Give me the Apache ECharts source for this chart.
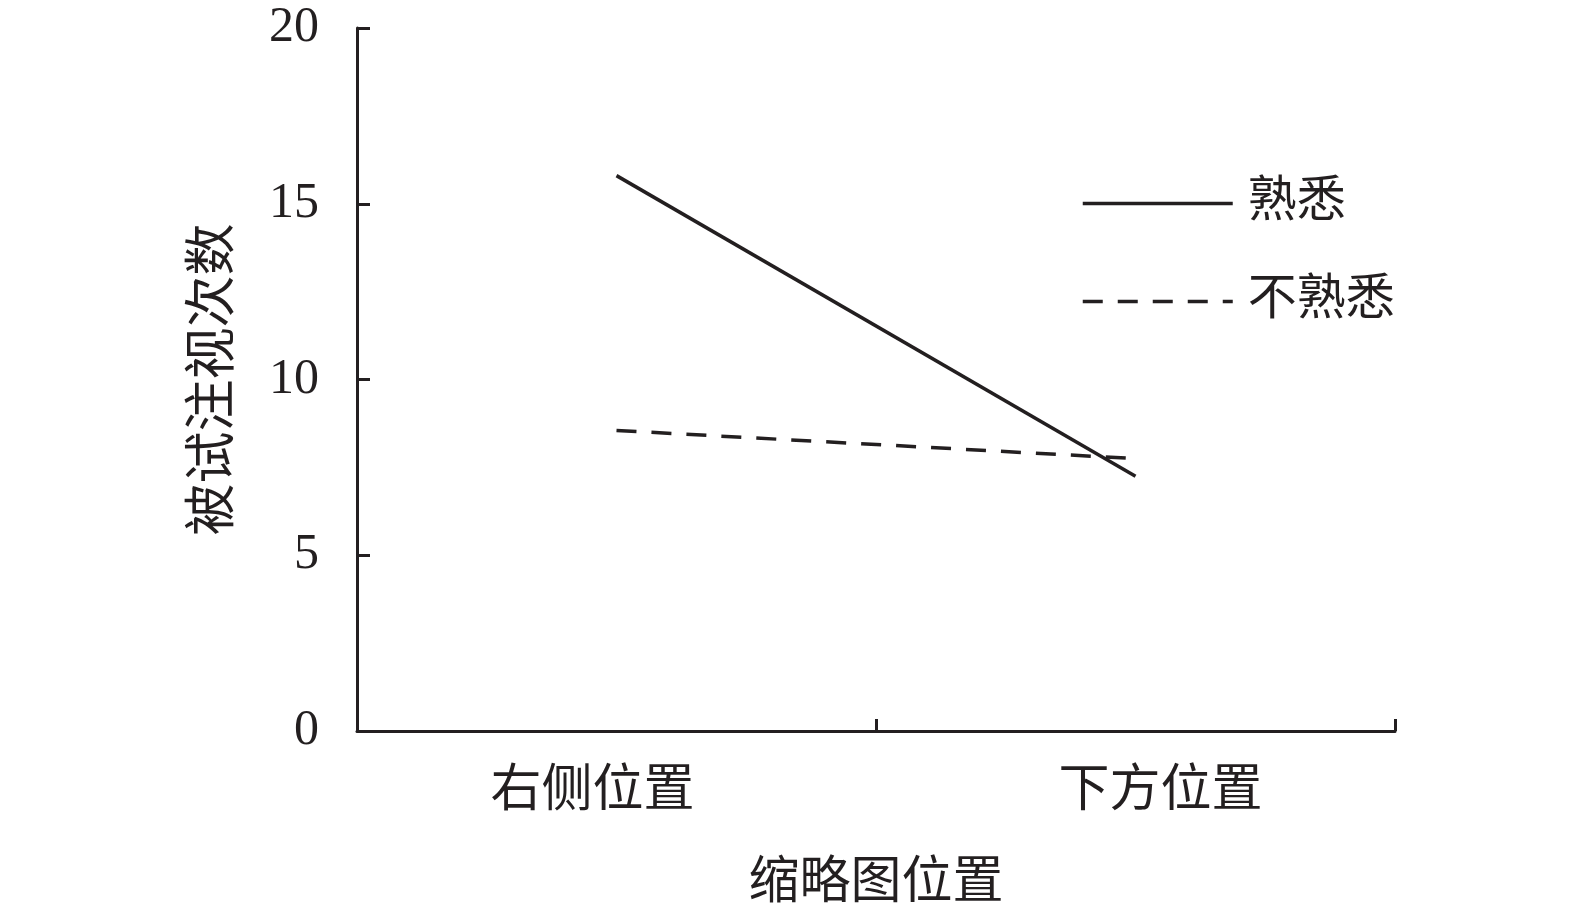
<!DOCTYPE html>
<html><head><meta charset="utf-8">
<script src="https://cdn.jsdelivr.net/npm/echarts@6/dist/echarts.min.js"></script>
<style>html,body{margin:0;padding:0;background:#fff}#c{width:1575px;height:910px}</style>
</head><body><div id="c"></div>
<script>
const categories = ['右侧位置', '下方位置'];
const familiar = [15.8, 7.25];
const unfamiliar = [8.55, 7.75];
const yTicks = [0, 5, 10, 15, 20];
const seriesNames = ['熟悉', '不熟悉'];

const ink = '#231f20';
const font = '"Liberation Serif", "Noto Sans CJK SC", serif';
const chart = echarts.init(document.getElementById('c'));
chart.setOption({
  animation: false,
  grid: { left: 357, right: 180, top: 28, bottom: 179, outerBoundsMode: 'none', containLabel: false },
  legend: {
    orient: 'vertical', left: 1076, top: 174, itemWidth: 150, itemHeight: 20, itemGap: 49,
    textStyle: { fontFamily: font, fontSize: 49, color: ink, padding: [0, 0, 0, 10] },
    itemStyle: { opacity: 0 },
    lineStyle: { width: 3.5 },
    data: seriesNames.map(n => ({ name: n, itemStyle: { opacity: 0 } }))
  },
  xAxis: {
    type: 'category', data: categories, boundaryGap: true,
    name: '缩略图位置', nameLocation: 'middle', nameGap: 128,
    nameTextStyle: { fontFamily: font, fontSize: 51, color: ink },
    axisLine: { lineStyle: { color: ink, width: 3 } },
    axisTick: { show: true, interval: 0, inside: true, length: 12, lineStyle: { color: ink, width: 3 } },
    axisLabel: {
      fontFamily: font, fontSize: 51, color: ink, margin: 36,
      formatter: (v, i) => (i === 0 ? '{a|' + v + '}' : '{b|' + v + '}'),
      rich: {
        a: { fontFamily: font, fontSize: 51, color: ink, padding: [0, 48, 0, 0] },
        b: { fontFamily: font, fontSize: 51, color: ink, padding: [0, 0, 0, 50] }
      }
    }
  },
  yAxis: {
    type: 'value', min: yTicks[0], max: yTicks[yTicks.length - 1], interval: 5,
    name: '被试注视次数', nameLocation: 'middle', nameGap: 116,
    nameTextStyle: { fontFamily: font, fontSize: 52, color: ink },
    splitLine: { show: false },
    axisLine: { show: true, lineStyle: { color: ink, width: 3 } },
    axisTick: { show: true, inside: true, length: 13, lineStyle: { color: ink, width: 3 } },
    axisLabel: { fontFamily: font, fontSize: 50, color: ink, margin: 38 }
  },
  series: [
    { name: seriesNames[0], type: 'line', data: familiar, symbol: 'none',
      lineStyle: { color: ink, width: 3.5, type: 'solid' }, itemStyle: { color: ink } },
    { name: seriesNames[1], type: 'line', data: unfamiliar, symbol: 'none',
      lineStyle: { color: ink, width: 3.5, type: [20, 15] }, itemStyle: { color: ink } }
  ]
});
</script></body></html>
